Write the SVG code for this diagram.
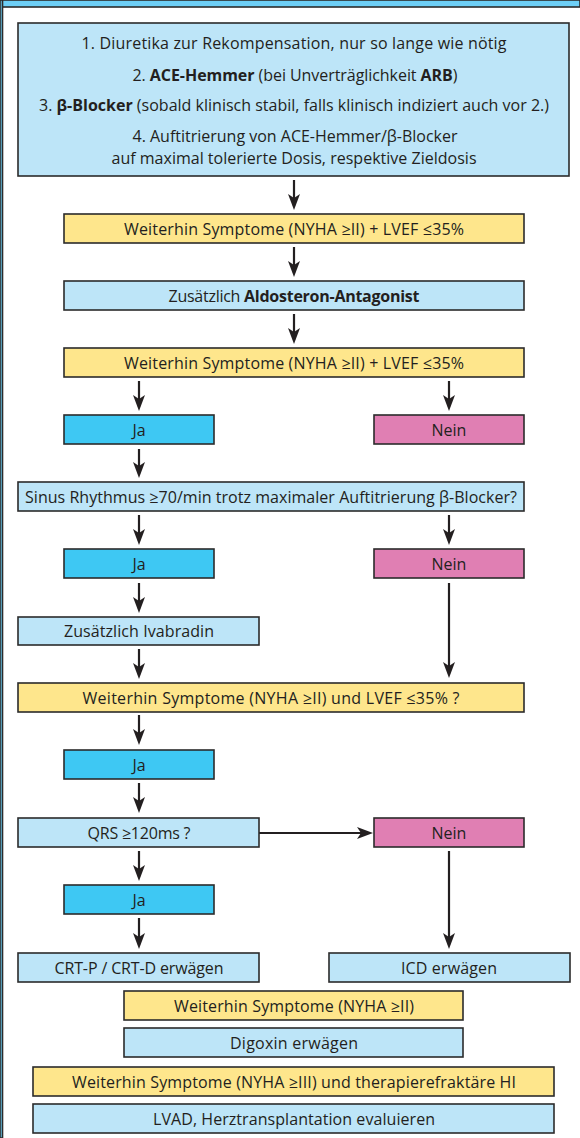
<svg xmlns="http://www.w3.org/2000/svg" width="580" height="1138" viewBox="0 0 580 1138">
<defs>
<style>
text{font-family:"Open Sans","Noto Sans","DejaVu Sans",sans-serif;font-size:16px;fill:#231f20;text-anchor:middle}
.b{font-weight:bold}
rect{stroke:#2b2b2b;stroke-width:1.6}
.lb{fill:#bde5f8}
.ye{fill:#fee68c}
.ja{fill:#3ec8f3}
.ne{fill:#e07fb3}
.c line{stroke:#231f20;stroke-width:2.2;fill:none;marker-end:url(#ah)}
</style>
<marker id="ah" markerUnits="userSpaceOnUse" viewBox="0 0 16 12" markerWidth="16" markerHeight="12" refX="12" refY="6" orient="auto">
<path d="M0,0 L16,6 L0,12 L4,6 Z" fill="#231f20"/>
</marker>
</defs>
<rect x="0" y="0" width="580" height="7" fill="#6dcff6" stroke="none"/>
<rect x="0" y="0" width="2.5" height="1138" fill="#6dcff6" stroke="none"/>

<g class="c" id="connectors">
<line x1="294" y1="180" x2="294" y2="206"/>
<line x1="294" y1="247" x2="294" y2="273"/>
<line x1="294" y1="314" x2="294" y2="340"/>
<line x1="139" y1="381" x2="139" y2="407"/>
<line x1="449" y1="381" x2="449" y2="407"/>
<line x1="139" y1="449" x2="139" y2="474"/>
<line x1="139" y1="515" x2="139" y2="541"/>
<line x1="449" y1="515" x2="449" y2="541"/>
<line x1="139" y1="583" x2="139" y2="609"/>
<line x1="449" y1="583" x2="449" y2="674"/>
<line x1="139" y1="649" x2="139" y2="675"/>
<line x1="139" y1="715" x2="139" y2="741"/>
<line x1="139" y1="783" x2="139" y2="809"/>
<line x1="259" y1="833" x2="369" y2="833"/>
<line x1="139" y1="851" x2="139" y2="877"/>
<line x1="449" y1="851" x2="449" y2="945"/>
<line x1="139" y1="918" x2="139" y2="945"/>
</g>

<g id="start">
<rect class="lb" x="18" y="23" width="551" height="153"/>
<text x="294" y="49" textLength="425">1. Diuretika zur Rekompensation, nur so lange wie nötig</text>
<text x="295" y="81" textLength="325">2. <tspan class="b">ACE-Hemmer</tspan> (bei Unverträglichkeit <tspan class="b">ARB</tspan>)</text>
<text x="294" y="111" textLength="510">3. <tspan class="b">β-Blocker</tspan> (sobald klinisch stabil, falls klinisch indiziert auch vor 2.)</text>
<text x="295" y="141.5" textLength="325">4. Auftitrierung von ACE-Hemmer/β-Blocker</text>
<text x="294" y="163.5" textLength="365">auf maximal tolerierte Dosis, respektive Zieldosis</text>
</g>
<g id="sym1"><rect class="ye" x="64" y="214" width="460" height="29"/><text x="294" y="234.5" textLength="340">Weiterhin Symptome (NYHA ≥II) + LVEF ≤35%</text></g>
<g id="aldo"><rect class="lb" x="64" y="281" width="460" height="29"/><text x="294" y="301.5" textLength="251">Zusätzlich <tspan class="b">Aldosteron-Antagonist</tspan></text></g>
<g id="sym2"><rect class="ye" x="64" y="348" width="460" height="29"/><text x="294" y="368.5" textLength="340">Weiterhin Symptome (NYHA ≥II) + LVEF ≤35%</text></g>
<g id="ja1"><rect class="ja" x="64" y="415" width="150" height="29"/><text x="139" y="435.5">Ja</text></g>
<g id="nein1"><rect class="ne" x="374" y="415" width="150" height="29"/><text x="449" y="435.5">Nein</text></g>
<g id="sinus"><rect class="lb" x="18" y="482" width="506" height="29"/><text x="271" y="502.5" textLength="492">Sinus Rhythmus ≥70/min trotz maximaler Auftitrierung β-Blocker?</text></g>
<g id="ja2"><rect class="ja" x="64" y="549" width="150" height="29"/><text x="139" y="569.5">Ja</text></g>
<g id="nein2"><rect class="ne" x="374" y="549" width="150" height="29"/><text x="449" y="569.5">Nein</text></g>
<g id="ivabradin"><rect class="lb" x="18" y="617" width="241" height="28"/><text x="139" y="636.5" textLength="150">Zusätzlich Ivabradin</text></g>
<g id="sym3"><rect class="ye" x="18" y="683" width="506" height="29"/><text x="271" y="703.5" textLength="377">Weiterhin Symptome (NYHA ≥II) und LVEF ≤35% ?</text></g>
<g id="ja3"><rect class="ja" x="64" y="750" width="150" height="29"/><text x="139" y="770.5">Ja</text></g>
<g id="qrs"><rect class="lb" x="18" y="818" width="241" height="29"/><text x="139" y="838.5" textLength="103">QRS ≥120ms ?</text></g>
<g id="nein3"><rect class="ne" x="374" y="818" width="150" height="29"/><text x="449" y="838.5">Nein</text></g>
<g id="ja4"><rect class="ja" x="64" y="885" width="150" height="29"/><text x="139" y="905.5">Ja</text></g>
<g id="crt"><rect class="lb" x="18" y="953" width="241" height="29"/><text x="139" y="973.5" textLength="169">CRT-P / CRT-D erwägen</text></g>
<g id="icd"><rect class="lb" x="329" y="953" width="241" height="29"/><text x="449" y="973.5" textLength="96">ICD erwägen</text></g>
<g id="sym4"><rect class="ye" x="124" y="991" width="339" height="29"/><text x="294" y="1011.5" textLength="240">Weiterhin Symptome (NYHA ≥II)</text></g>
<g id="digoxin"><rect class="lb" x="124" y="1028" width="339" height="29"/><text x="294" y="1048.5" textLength="128">Digoxin erwägen</text></g>
<g id="sym5"><rect class="ye" x="33" y="1067" width="521" height="29"/><text x="294" y="1087.5" textLength="444">Weiterhin Symptome (NYHA ≥III) und therapierefraktäre HI</text></g>
<g id="lvad"><rect class="lb" x="33" y="1104" width="521" height="29"/><text x="294" y="1124.5" textLength="282">LVAD, Herztransplantation evaluieren</text></g>
</svg>
